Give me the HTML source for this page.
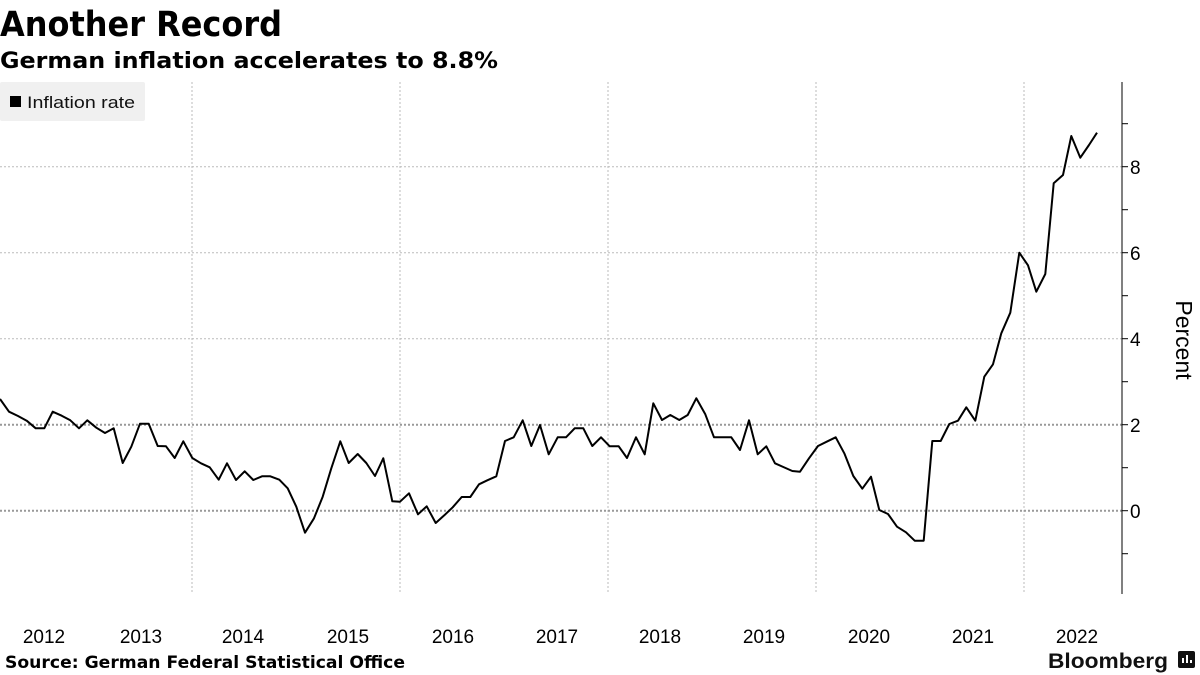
<!DOCTYPE html>
<html><head><meta charset="utf-8"><style>
body{margin:0;background:#fff;}
svg{display:block;font-family:"Liberation Sans","DejaVu Sans",sans-serif;}
.b{font-family:"DejaVu Sans","Liberation Sans",sans-serif;font-weight:bold;}
</style></head><body>
<svg width="1200" height="675" viewBox="0 0 1200 675">
<text class="b" x="0" y="36" font-size="35" fill="#000" textLength="282" lengthAdjust="spacingAndGlyphs">Another Record</text>
<text class="b" x="0" y="68" font-size="22" fill="#000" textLength="498" lengthAdjust="spacingAndGlyphs">German inflation accelerates to 8.8%</text>
<rect x="0" y="82" width="145" height="39" fill="#f0f0f0" rx="2"/>
<rect x="10" y="96" width="11" height="11" fill="#000"/>
<text x="27" y="108" font-size="17" fill="#111" textLength="108" lengthAdjust="spacingAndGlyphs">Inflation rate</text>
<g stroke="#bbb" stroke-width="1" stroke-dasharray="2,2">
<line x1="192" y1="82" x2="192" y2="594"/><line x1="400" y1="82" x2="400" y2="594"/>
<line x1="608" y1="82" x2="608" y2="594"/><line x1="816" y1="82" x2="816" y2="594"/>
<line x1="1024" y1="82" x2="1024" y2="594"/>
<line x1="0" y1="166.7" x2="1122" y2="166.7"/><line x1="0" y1="252.7" x2="1122" y2="252.7"/>
<line x1="0" y1="338.7" x2="1122" y2="338.7"/>
</g>
<g stroke="#999" stroke-width="2" stroke-dasharray="2,2">
<line x1="0" y1="424.7" x2="1122" y2="424.7"/><line x1="0" y1="510.7" x2="1122" y2="510.7"/>
</g>
<line x1="1122" y1="82" x2="1122" y2="594" stroke="#000" stroke-width="1"/>
<g stroke="#000" stroke-width="1">
<line x1="1122" x2="1128" y1="123.7" y2="123.7"/><line x1="1122" x2="1128" y1="166.7" y2="166.7"/>
<line x1="1122" x2="1128" y1="209.7" y2="209.7"/><line x1="1122" x2="1128" y1="252.7" y2="252.7"/>
<line x1="1122" x2="1128" y1="295.7" y2="295.7"/><line x1="1122" x2="1128" y1="338.7" y2="338.7"/>
<line x1="1122" x2="1128" y1="381.7" y2="381.7"/><line x1="1122" x2="1128" y1="424.7" y2="424.7"/>
<line x1="1122" x2="1128" y1="467.7" y2="467.7"/><line x1="1122" x2="1128" y1="510.7" y2="510.7"/>
<line x1="1122" x2="1128" y1="553.7" y2="553.7"/>
</g>
<g font-size="19" fill="#000">
<text x="1130" y="174">8</text><text x="1130" y="260">6</text><text x="1130" y="346">4</text>
<text x="1130" y="432">2</text><text x="1130" y="518">0</text>
</g>
<text transform="translate(1176,340) rotate(90)" font-size="23" text-anchor="middle" fill="#000">Percent</text>
<polyline fill="none" stroke="#000" stroke-width="2" stroke-linejoin="round" points="0,399 9,411.7 18,416 26.7,420.7 35.7,428.3 44.3,428.3 52.7,411.7 61.7,415.7 70.3,420.3 79,428.3 87.3,420.3 96.3,427.7 105,433 113.7,428.3 122.7,463 131.3,446.7 140,423.7 148.7,423.7 157.7,446 166,446.3 174.7,458 183.3,441.3 192.3,458 201,463.3 209.7,467.3 218.7,479.7 227,463.3 236,480 244.7,471.3 253.3,480 262,476.3 270.3,476.3 279.3,479.7 287.7,488.3 296.3,506.7 305,532.7 314,518.3 322.7,496.7 331.3,468.3 340.3,441.3 348.7,463 357.7,454 366.3,463 375,476 383.3,458.3 392.3,501.3 400,501.7 409,493.3 418,514.3 426.7,506.3 435.7,523 444.3,515.3 452.7,507.3 461.7,497 470.3,497 479,484.3 487.3,480.3 496.3,476.3 505,441 513.7,437.3 522.7,420.3 531.3,446 540,425 548.7,454.3 557.7,437.3 566,437.3 574.7,428.3 583.3,428.3 592.3,446 601,437.3 609.7,446.3 618.7,446.3 627,458 636,437.3 644.7,454.3 653.3,403.3 662,420 670.3,415 679.3,420 687.7,415 696.3,398.3 705.3,414.3 714,437.3 722.7,437.3 731.3,437.3 740,450 749,420.3 757.7,454.3 766.3,446.3 775,463.3 783.3,467 792.3,471 800,471.7 809,458.3 818,446 826.7,441.7 835.7,437.3 844.3,453.3 853.3,476 862.3,488.7 871,476.7 879.3,510 888,514 897,526.7 906,532.3 914.7,540.7 923.7,540.7 932.3,441 940.7,441 949.3,424 958,420.7 966.3,407.3 975.3,420.7 984.3,376.7 993,364.3 1001.3,333.3 1010.3,312.7 1019.3,252.7 1028,265.3 1036.3,291.7 1045.3,274 1053.7,183.3 1063,175 1071.3,136 1080.3,157.7 1089,145 1097,132.7"/>
<g font-size="19" fill="#000" text-anchor="middle">
<text x="44" y="643">2012</text><text x="141" y="643">2013</text><text x="243" y="643">2014</text>
<text x="348" y="643">2015</text><text x="453" y="643">2016</text><text x="557" y="643">2017</text>
<text x="660" y="643">2018</text><text x="764" y="643">2019</text><text x="869" y="643">2020</text>
<text x="973" y="643">2021</text><text x="1077" y="643">2022</text>
</g>
<text class="b" x="5" y="668" font-size="17" fill="#000" textLength="400" lengthAdjust="spacingAndGlyphs">Source: German Federal Statistical Office</text>
<text x="1048" y="668" font-size="21" font-weight="bold" fill="#111" textLength="120" lengthAdjust="spacingAndGlyphs">Bloomberg</text>
<rect x="1178" y="651" width="17" height="17" rx="2" fill="#111"/>
<g stroke="#fff" stroke-width="2"><line x1="1183" y1="663" x2="1183" y2="658"/><line x1="1187" y1="663" x2="1187" y2="655"/><line x1="1191" y1="663" x2="1191" y2="660"/></g>
</svg>
</body></html>
